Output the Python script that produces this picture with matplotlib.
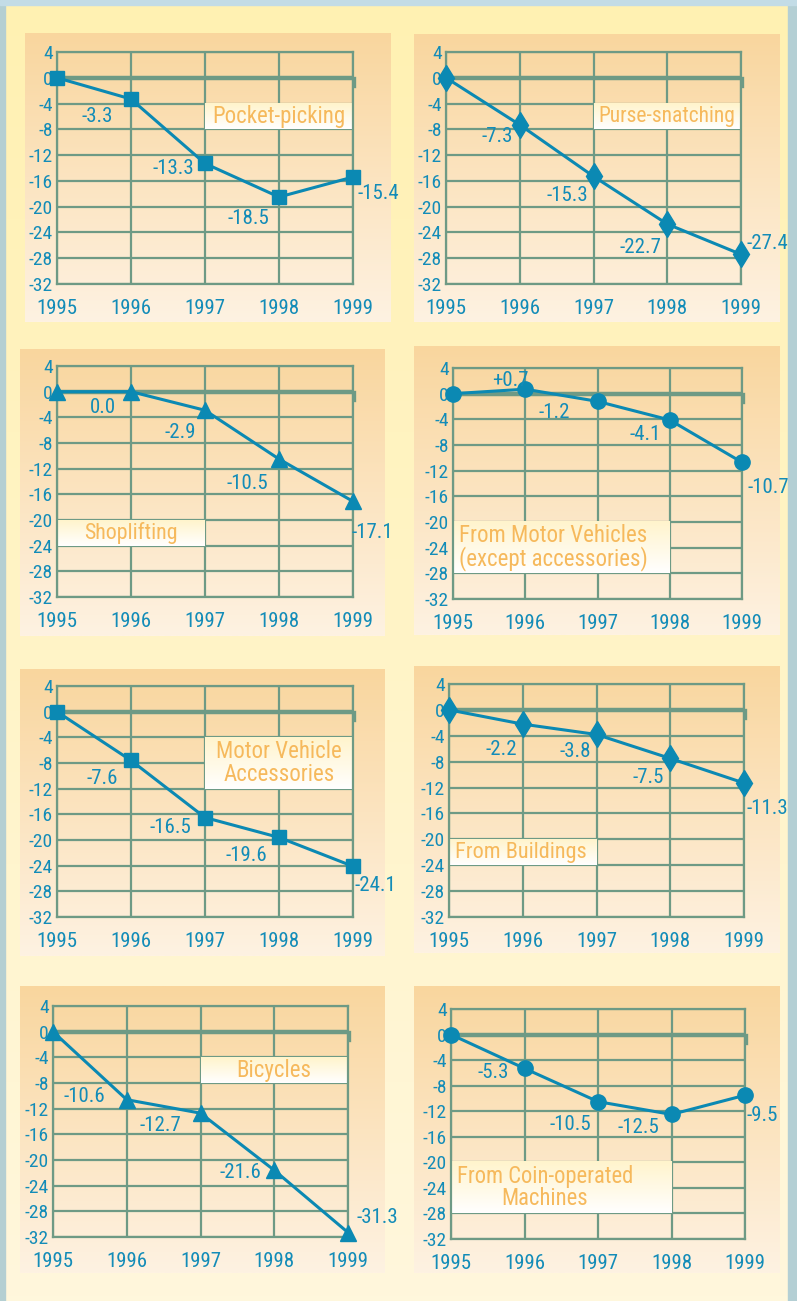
import numpy as np
import matplotlib
matplotlib.use("Agg")
import matplotlib.pyplot as plt
from matplotlib.colors import LinearSegmentedColormap
from matplotlib.patches import Rectangle

# cumulative % change since 1995
years = [1995, 1996, 1997, 1998, 1999]
pocket_picking = [0.0, -3.3, -13.3, -18.5, -15.4]
purse_snatching = [0.0, -7.3, -15.3, -22.7, -27.4]
shoplifting = [0.0, 0.0, -2.9, -10.5, -17.1]
from_motor_vehicles = [0.0, 0.7, -1.2, -4.1, -10.7]
motor_vehicle_accessories = [0.0, -7.6, -16.5, -19.6, -24.1]
from_buildings = [0.0, -2.2, -3.8, -7.5, -11.3]
bicycles = [0.0, -10.6, -12.7, -21.6, -31.3]
coin_operated = [0.0, -5.3, -10.5, -12.5, -9.5]

titles = ["Pocket-picking", "Purse-snatching", "Shoplifting",
          "From Motor Vehicles\n(except accessories)",
          "Motor Vehicle\nAccessories", "From Buildings", "Bicycles",
          "From Coin-operated\nMachines"]
series = [pocket_picking, purse_snatching, shoplifting, from_motor_vehicles,
          motor_vehicle_accessories, from_buildings, bicycles, coin_operated]
y_ticks = [4, 0, -4, -8, -12, -16, -20, -24, -28, -32]

# layout (pixels)
W, H = 797, 1301
box_px = [(25, 33, 390, 322), (414, 34, 779, 322),
          (20, 349, 385, 636), (414, 346, 779, 635),
          (20, 669, 385, 956), (414, 666, 779, 953),
          (20, 986, 385, 1273), (414, 986, 779, 1273)]
plot_px = [(57, 52, 353, 284), (446, 52, 741, 284),
           (57, 366, 353, 597), (453, 368, 742, 599),
           (57, 686, 353, 917), (449, 684, 744, 917),
           (53, 1006, 348, 1237), (451, 1009, 745, 1239)]
title_box = [(1997, 1999, -8, -4), (1997, 1999, -8, -4),
             (1995, 1997, -24, -20), (1995, 1998, -28, -20),
             (1997, 1999, -12, -4), (1995, 1997, -24, -20),
             (1997, 1999, -8, -4), (1995, 1998, -28, -20)]
title_ha = ["center", "center", "center", "left", "center", "left", "center", "left"]
title_sizes = [16.5, 15.5, 15.8, 16.5, 16.5, 16, 16.5, 16.3]
markers = ["s", "d", "^", "o", "s", "d", "^", "o"]
marker_sizes = [10, 13, 12, 11, 10, 13, 12, 11]
# label offsets (dx, dy down) in pixels for 1996..1999
offsets = [[(-34, 17), (-32, 5), (-31, 21), (25, 16)],
           [(-23, 12), (-26, 19), (-27, 23), (26, -11)],
           [(-28, 16), (-25, 22), (-32, 24), (19, 31)],
           [(-15, -9), (-43, 11), (-25, 15), (26, 25)],
           [(-29, 18), (-35, 10), (-33, 18), (22, 19)],
           [(-21, 25), (-21, 17), (-22, 19), (23, 25)],
           [(-42, -3), (-40, 12), (-34, 2), (29, -15)],
           [(-31, 4), (-28, 23), (-33, 13), (17, 20)]]

LINE = "#0b89b3"
TEXT = "#138cb8"
GRID = "#6e9a85"
TITLE = "#f6b95c"

plt.rcParams["font.family"] = ["Roboto Condensed", "Liberation Sans Narrow", "DejaVu Sans"]


def rect(x0, y0, x1, y1):
    return [x0 / W, 1 - y1 / H, (x1 - x0) / W, (y1 - y0) / H]


def vgrad(ax, top, bottom, extent=None, zorder=0):
    cmap = LinearSegmentedColormap.from_list("g", [top, bottom])
    g = np.linspace(0, 1, 256).reshape(-1, 1)
    if extent is None:
        ax.imshow(g, cmap=cmap, aspect="auto", extent=[0, 1, 0, 1],
                  origin="upper", zorder=zorder)
        ax.set_xlim(0, 1)
        ax.set_ylim(0, 1)
    else:
        ax.imshow(g, cmap=cmap, aspect="auto", extent=extent,
                  origin="upper", zorder=zorder)


fig = plt.figure(figsize=(W / 100, H / 100), dpi=100)

bg = fig.add_axes([0, 0, 1, 1])
vgrad(bg, "#fff1b2", "#fff7dc")
bg.axis("off")
fig.patches.append(Rectangle((0, 0), 5 / W, 1, transform=fig.transFigure,
                             color="#b4cfd2", zorder=1))
fig.patches.append(Rectangle((788 / W, 0), 9 / W, 1, transform=fig.transFigure,
                             color="#b4cfd4", zorder=1))
fig.patches.append(Rectangle((0, 1 - 5 / H), 1, 5 / H, transform=fig.transFigure,
                             color="#c3dce6", zorder=1))

for i in range(8):
    bax = fig.add_axes(rect(*box_px[i]))
    vgrad(bax, "#f9d69e", "#fef2e2")
    bax.axis("off")

    ax = fig.add_axes(rect(*plot_px[i]))
    ax.patch.set_alpha(0)
    vals = series[i]

    ax.set_xticks(years)
    ax.set_yticks(y_ticks)
    ax.set_xticklabels([str(y) for y in years], fontsize=15, color=TEXT)
    ax.set_yticklabels([str(t) for t in y_ticks], fontsize=14, color=TEXT)
    ax.tick_params(length=0)
    ax.tick_params(axis="x", pad=11)
    ax.tick_params(axis="y", pad=3)
    ax.grid(True, color=GRID, linewidth=1.6)
    ax.set_axisbelow(True)
    for s in ax.spines.values():
        s.set_color(GRID)
        s.set_linewidth(1.6)
    ax.axhline(0, color=GRID, linewidth=3.2, zorder=2)
    ax.plot([1999.02, 1999.02], [0, -1.3], color=GRID, linewidth=2.4,
            clip_on=False, zorder=2)

    x0, x1, y0, y1 = title_box[i]
    vgrad(ax, "#fff4cc", "#ffffff", extent=[x0, x1, y0, y1], zorder=1.5)
    if title_ha[i] == "left":
        tx = x0 + 0.08
    else:
        tx = (x0 + x1) / 2
    ax.text(tx, (y0 + y1) / 2, titles[i], ha=title_ha[i], va="center",
            multialignment="center", fontsize=title_sizes[i], color=TITLE,
            linespacing=0.95, zorder=3)
    ax.set_aspect("auto")
    ax.set_xlim(1995, 1999)
    ax.set_ylim(-32, 4)

    ax.plot(years, vals, color=LINE, linewidth=2.2, marker=markers[i],
            markersize=marker_sizes[i], clip_on=False, zorder=4)

    for j in range(1, 5):
        v = vals[j]
        if v > 0:
            lab = "+%.1f" % v
        else:
            lab = "%.1f" % v
        dx, dy = offsets[i][j - 1]
        ax.annotate(lab, (years[j], v), xytext=(dx, -dy),
                    textcoords="offset pixels", ha="center", va="center",
                    fontsize=15, color=TEXT, zorder=5, annotation_clip=False)

fig.savefig("out.png", dpi=100)
